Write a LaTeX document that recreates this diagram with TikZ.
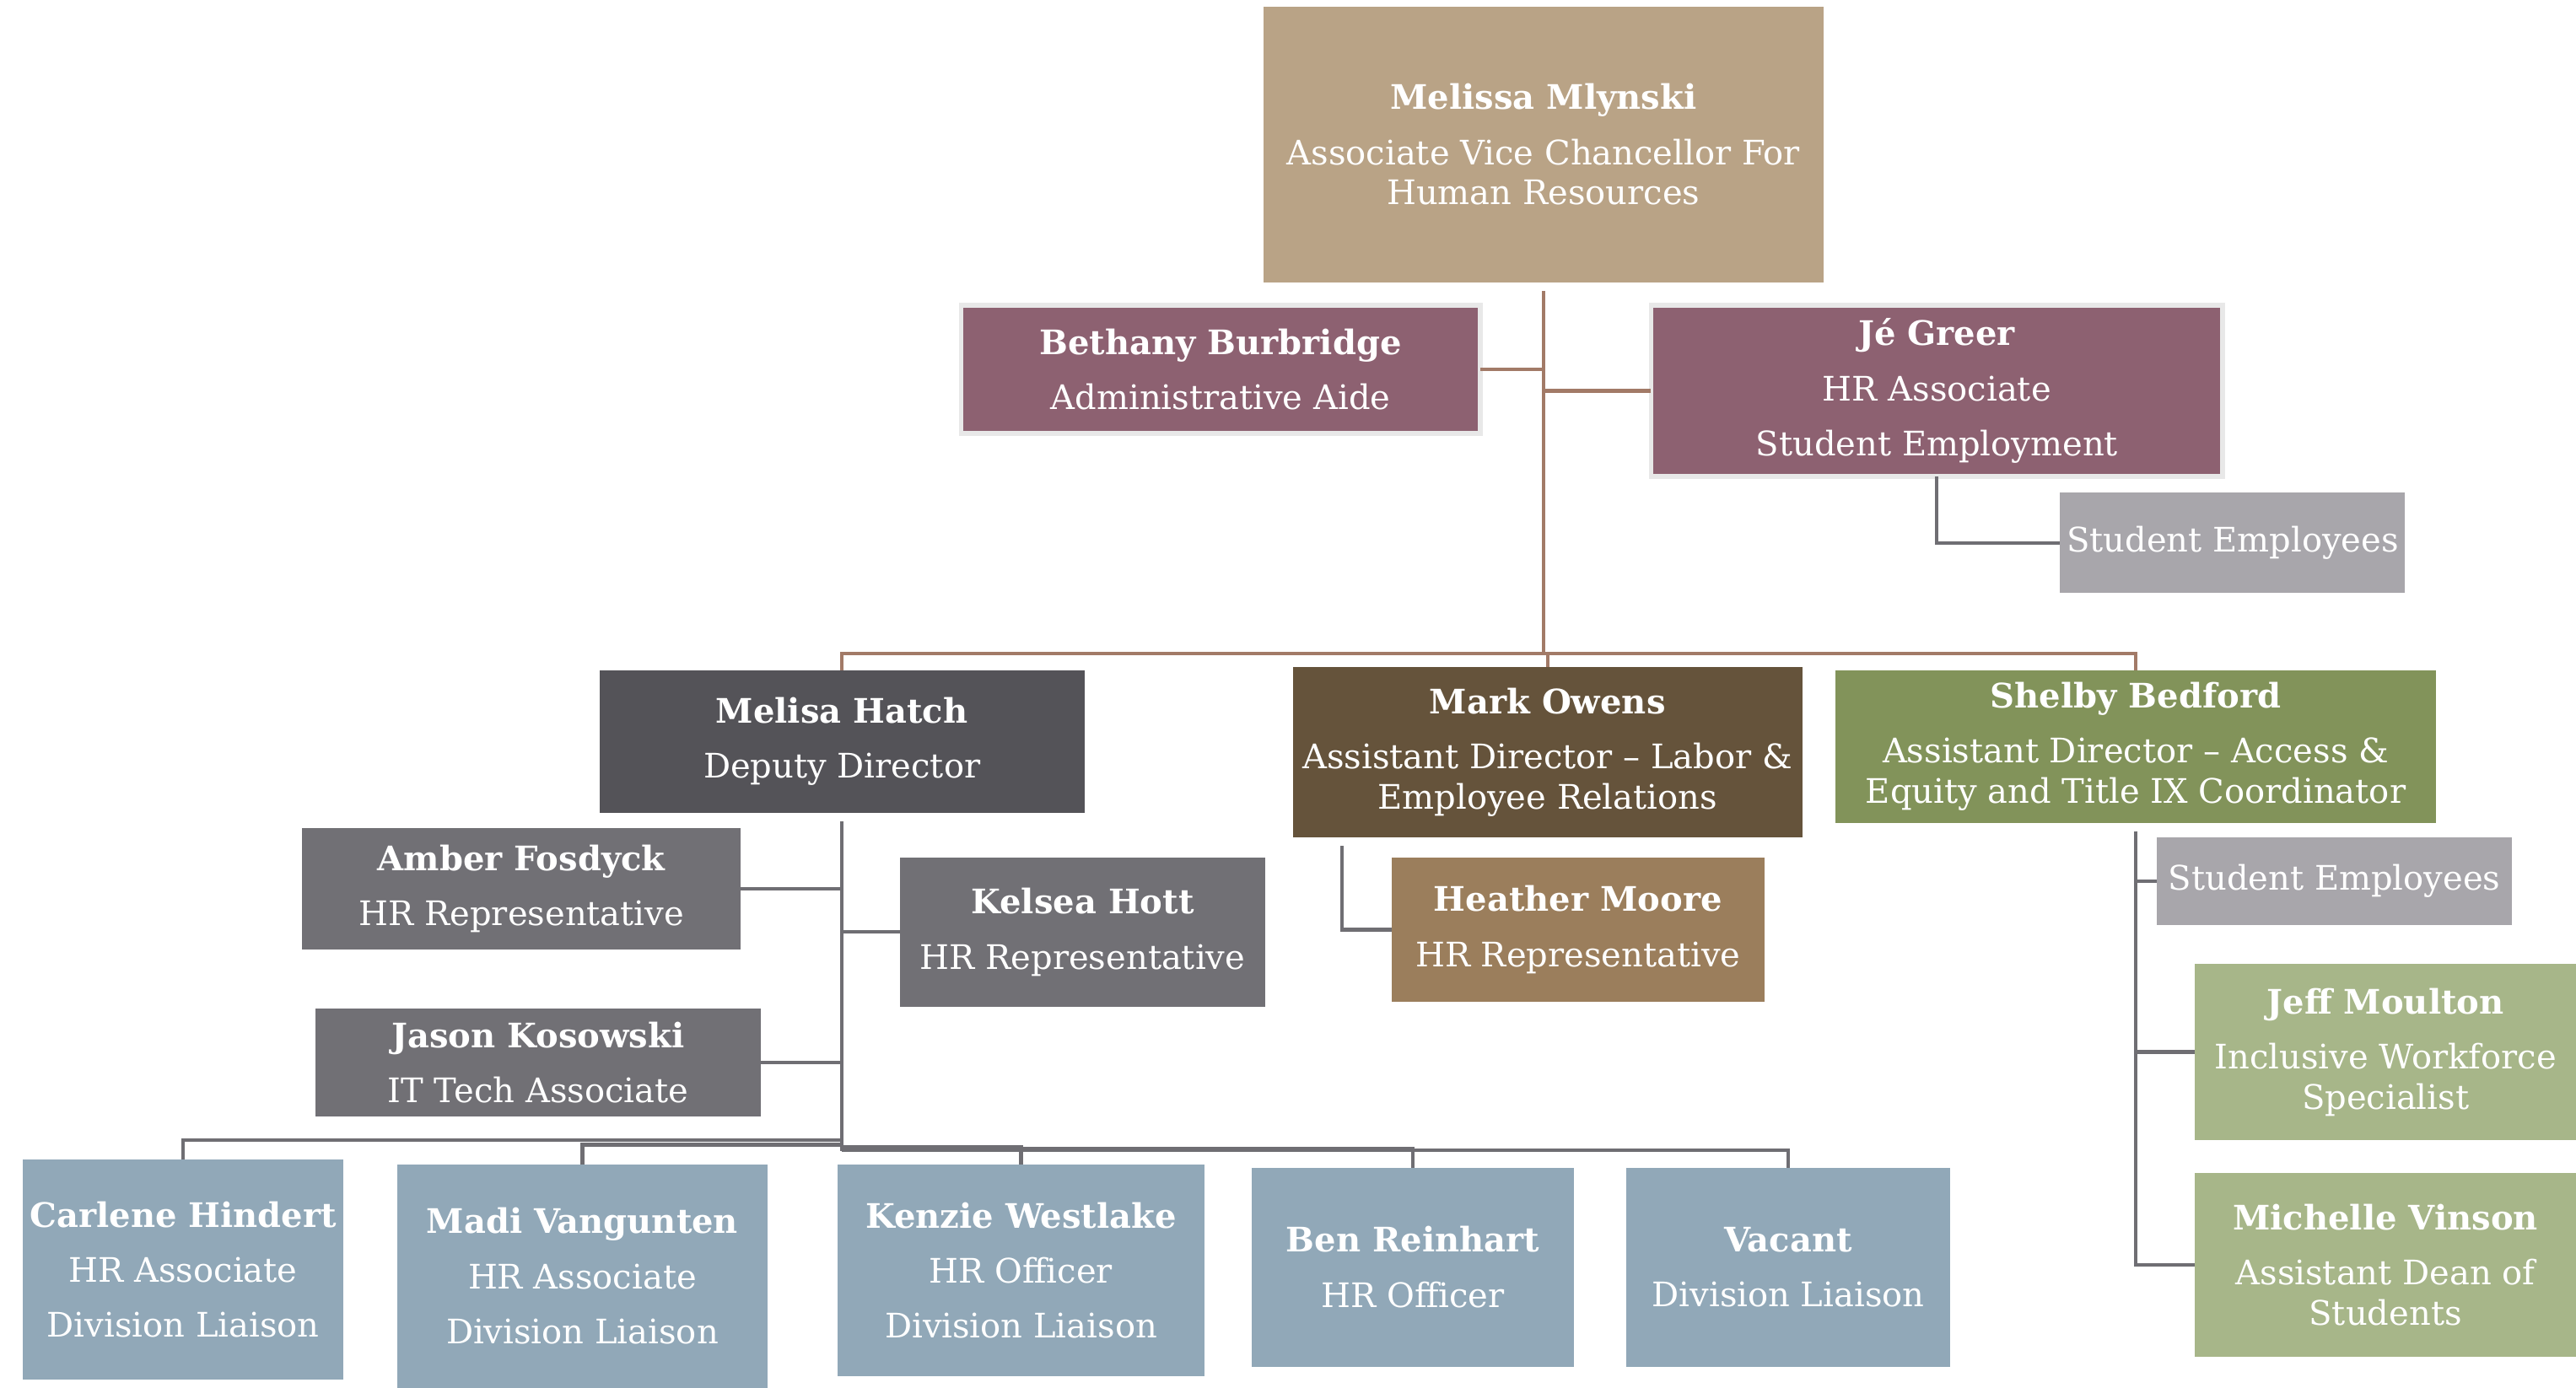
\documentclass[tikz,border=0pt]{standalone}
\usepackage{fontspec}
\setmainfont{DejaVu Serif}
\usetikzlibrary{fit}

\definecolor{avctan}{HTML}{B9A386}
\definecolor{mauve}{HTML}{8D6171}
\definecolor{studgray}{HTML}{A8A6AB}
\definecolor{deputygray}{HTML}{545358}
\definecolor{repgray}{HTML}{717075}
\definecolor{darkbrown}{HTML}{65533B}
\definecolor{lightbrown}{HTML}{9B7E5C}
\definecolor{olive}{HTML}{82935A}
\definecolor{lightolive}{HTML}{A7B689}
\definecolor{bluegray}{HTML}{91A8B8}
\definecolor{linebrown}{HTML}{A27A67}
\definecolor{linegray}{HTML}{6F6E73}

\newcommand{\nm}[1]{\textbf{#1}\\[5pt]}

\begin{document}
\begin{tikzpicture}[x=0.01948cm,y=-0.01948cm,
  every node/.style={inner sep=0pt, outer sep=0pt},
  card/.style={fill=#1},
  txt/.style={text=white, align=center, font=\fontsize{11.4}{13.6}\selectfont},
  boxed/.style={draw=gray!18, line width=1.6pt},
  brownln/.style={draw=linebrown, line width=1.2pt},
  grayln/.style={draw=linegray, line width=1.2pt}]
\useasboundingbox (0,0) rectangle (1568,845);

% top
\node[card=avctan, fit={(769,4) (1110,172)}] (mlynski) {};
\node[txt] (mlynski-t) at (mlynski) {\nm{Melissa Mlynski}Associate Vice Chancellor For\\Human Resources};
\node[card=mauve, boxed, fit={(585,186) (901,264)}] (bethany) {};
\node[txt] (bethany-t) at (bethany) {\nm{Bethany Burbridge}Administrative Aide};
\node[card=mauve, boxed, fit={(1005,186) (1353,290)}] (greer) {};
\node[txt] (greer-t) at (greer) {\nm{Jé Greer}HR Associate\\[5pt]Student Employment};
\node[card=studgray, fit={(1254,300) (1464,361)}] (stud1) {};
\node[txt] (stud1-t) at (stud1) {Student Employees};

% second row
\node[card=deputygray, fit={(365,408) (660,495)}] (hatch) {};
\node[txt] (hatch-t) at (hatch) {\nm{Melisa Hatch}Deputy Director};
\node[card=darkbrown, fit={(787,406) (1097,510)}] (owens) {};
\node[txt] (owens-t) at (owens) {\nm{Mark Owens}Assistant Director -- Labor \&\\Employee Relations};
\node[card=olive, fit={(1117,408) (1483,501)}] (bedford) {};
\node[txt] (bedford-t) at (bedford) {\nm{Shelby Bedford}Assistant Director -- Access \&\\Equity and Title IX Coordinator};

% under hatch
\node[card=repgray, fit={(184,504) (451,578)}] (amber) {};
\node[txt] (amber-t) at (amber) {\nm{Amber Fosdyck}HR Representative};
\node[card=repgray, fit={(548,522) (770,613)}] (kelsea) {};
\node[txt] (kelsea-t) at (kelsea) {\nm{Kelsea Hott}HR Representative};
\node[card=repgray, fit={(192,614) (463,680)}] (jason) {};
\node[txt] (jason-t) at (jason) {\nm{Jason Kosowski}IT Tech Associate};

% under owens and bedford
\node[card=lightbrown, fit={(847,522) (1074,610)}] (heather) {};
\node[txt] (heather-t) at (heather) {\nm{Heather Moore}HR Representative};
\node[card=studgray, fit={(1313,510) (1529,563)}] (stud2) {};
\node[txt] (stud2-t) at (stud2) {Student Employees};
\node[card=lightolive, fit={(1336,587) (1568,694)}] (moulton) {};
\node[txt] (moulton-t) at (moulton) {\nm{Jeff Moulton}Inclusive Workforce\\Specialist};
\node[card=lightolive, fit={(1336,714) (1568,826)}] (vinson) {};
\node[txt] (vinson-t) at (vinson) {\nm{Michelle Vinson}Assistant Dean of\\Students};

% bottom row
\node[card=bluegray, fit={(14,706) (209,840)}] (carlene) {};
\node[txt] (carlene-t) at (carlene) {\nm{Carlene Hindert}HR Associate\\[5pt]Division Liaison};
\node[card=bluegray, fit={(242,709) (467,845)}] (madi) {};
\node[txt] (madi-t) at (madi) {\nm{Madi Vangunten}HR Associate\\[5pt]Division Liaison};
\node[card=bluegray, fit={(510,709) (733,838)}] (kenzie) {};
\node[txt] (kenzie-t) at (kenzie) {\nm{Kenzie Westlake}HR Officer\\[5pt]Division Liaison};
\node[card=bluegray, fit={(762,711) (958,832)}] (ben) {};
\node[txt] (ben-t) at (ben) {\nm{Ben Reinhart}HR Officer};
\node[card=bluegray, fit={(990,711) (1187,832)}] (vacant) {};
\node[txt] (vacant-t) at (vacant) {\nm{Vacant}Division Liaison};

% connectors
\coordinate (topbus) at (939.5,398);
\coordinate (hatchend) at (512.5,701);
\draw[brownln, shorten <=2.8pt] (mlynski) -- (topbus);
\draw[brownln] (hatch.north) |- (topbus) -| (bedford.north);
\draw[brownln] (owens.north |- topbus) -- (owens.north);
\draw[brownln] (bethany.east) -- (bethany.east -| topbus);
\draw[brownln] (greer.west) -- (greer.west -| topbus);
\draw[grayln] (greer.south) |- (stud1.west);

\draw[grayln, shorten <=2.8pt] (hatch) -- (hatchend);
\draw[grayln] (amber.east) -- (amber.east -| hatchend);
\draw[grayln] (kelsea.west) -- (kelsea.west -| hatchend);
\draw[grayln] (jason.east) -- (jason.east -| hatchend);
\draw[grayln] (hatchend |- 0,694) -| (carlene.north);
\draw[grayln] (hatchend |- 0,697) -| (madi.north);
\draw[grayln] (hatchend |- 0,698.5) -| (kenzie.north);
\draw[grayln] (hatchend |- 0,699.5) -| (ben.north);
\draw[grayln] (hatchend |- 0,700.5) -| (vacant.north);

\draw[grayln] (owens.south west) ++(30,5) |- (heather.west);
\draw[grayln, shorten <=2.8pt] (bedford) |- (stud2.west);
\draw[grayln, shorten <=2.8pt] (bedford) |- (moulton.west);
\draw[grayln, shorten <=2.8pt] (bedford) |- (vinson.west);
\end{tikzpicture}
\end{document}
